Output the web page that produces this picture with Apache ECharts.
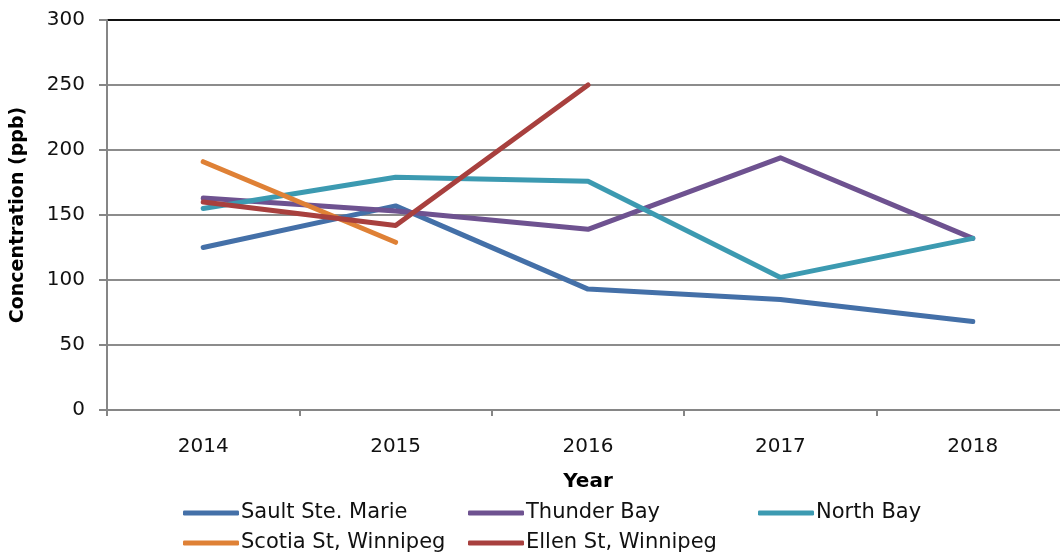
<!DOCTYPE html>
<html lang="en">
<head>
    <meta charset="UTF-8">
    <title>Concentration by year</title>
    <script src="https://cdn.jsdelivr.net/npm/echarts@6/dist/echarts.min.js"></script>
    <style>
        html, body { margin: 0; padding: 0; background: #fff; }
        #chart { width: 1060px; height: 557px; }
    </style>
</head>
<body>
<div id="chart"></div>
<script>
    var years = ['2014', '2015', '2016', '2017', '2018'];
    var yTicks = [0, 50, 100, 150, 200, 250, 300];
    var saultSteMarie = [125, 157, 93, 85, 68];
    var thunderBay = [163, 153, 139, 194, 132];
    var northBay = [155, 179, 176, 102, 132];
    var scotiaSt = [191, 129, null, null, null];
    var ellenSt = [160, 142, 250, null, null];

    var font = '"DejaVu Sans", "Open Sans", sans-serif';
    var chart = echarts.init(document.getElementById('chart'));

    function line(name, data, color) {
        return {
            name: name,
            type: 'line',
            data: data,
            symbol: 'none',
            connectNulls: false,
            lineStyle: { width: 5, color: color, cap: 'round', join: 'round' },
            itemStyle: { color: color }
        };
    }

    function legend(left, names) {
        return {
            orient: 'vertical',
            left: left,
            top: 501,
            padding: 0,
            itemWidth: 56,
            itemHeight: 5,
            itemGap: 6,
            icon: 'roundRect',
            textStyle: { fontFamily: font, fontSize: 21, color: '#111', lineHeight: 24, padding: [0, 0, 0, -3] },
            data: names
        };
    }

    var option = {
        animation: false,
        grid: { left: 107, right: -9, top: 20, bottom: 147, outerBoundsMode: 'none' },
        legend: [
            legend(183, ['Sault Ste. Marie', 'Scotia St, Winnipeg']),
            legend(468, ['Thunder Bay', 'Ellen St, Winnipeg']),
            legend(758, ['North Bay'])
        ],
        xAxis: {
            type: 'category',
            data: years,
            name: 'Year',
            nameLocation: 'middle',
            nameGap: 62,
            nameTextStyle: { fontFamily: font, fontSize: 20, fontWeight: 'bold', color: '#000' },
            axisLine: { lineStyle: { color: '#868686', width: 2 } },
            axisTick: { show: true, length: 6, lineStyle: { color: '#868686', width: 2 } },
            axisLabel: { fontFamily: font, fontSize: 20, color: '#111', margin: 27 }
        },
        yAxis: {
            type: 'value',
            min: yTicks[0],
            max: yTicks[yTicks.length - 1],
            interval: 50,
            name: 'Concentration (ppb)',
            nameLocation: 'middle',
            nameGap: 79,
            nameTextStyle: { fontFamily: font, fontSize: 19, fontWeight: 'bold', color: '#000' },
            axisLine: { show: true, lineStyle: { color: '#868686', width: 2 } },
            axisTick: { show: true, length: 8, lineStyle: { color: '#868686', width: 2 } },
            axisLabel: { fontFamily: font, fontSize: 20, color: '#111', margin: 22 },
            splitLine: { lineStyle: { color: ['#8c8c8c', '#8c8c8c', '#8c8c8c', '#8c8c8c', '#8c8c8c', '#8c8c8c', '#111'], width: 2 } }
        },
        series: [
            line('Sault Ste. Marie', saultSteMarie, '#4470A8'),
            line('Thunder Bay', thunderBay, '#6E5290'),
            line('North Bay', northBay, '#3C9AB1'),
            line('Scotia St, Winnipeg', scotiaSt, '#DF8136'),
            line('Ellen St, Winnipeg', ellenSt, '#A8403E')
        ]
    };
    chart.setOption(option);
</script>
</body>
</html>
